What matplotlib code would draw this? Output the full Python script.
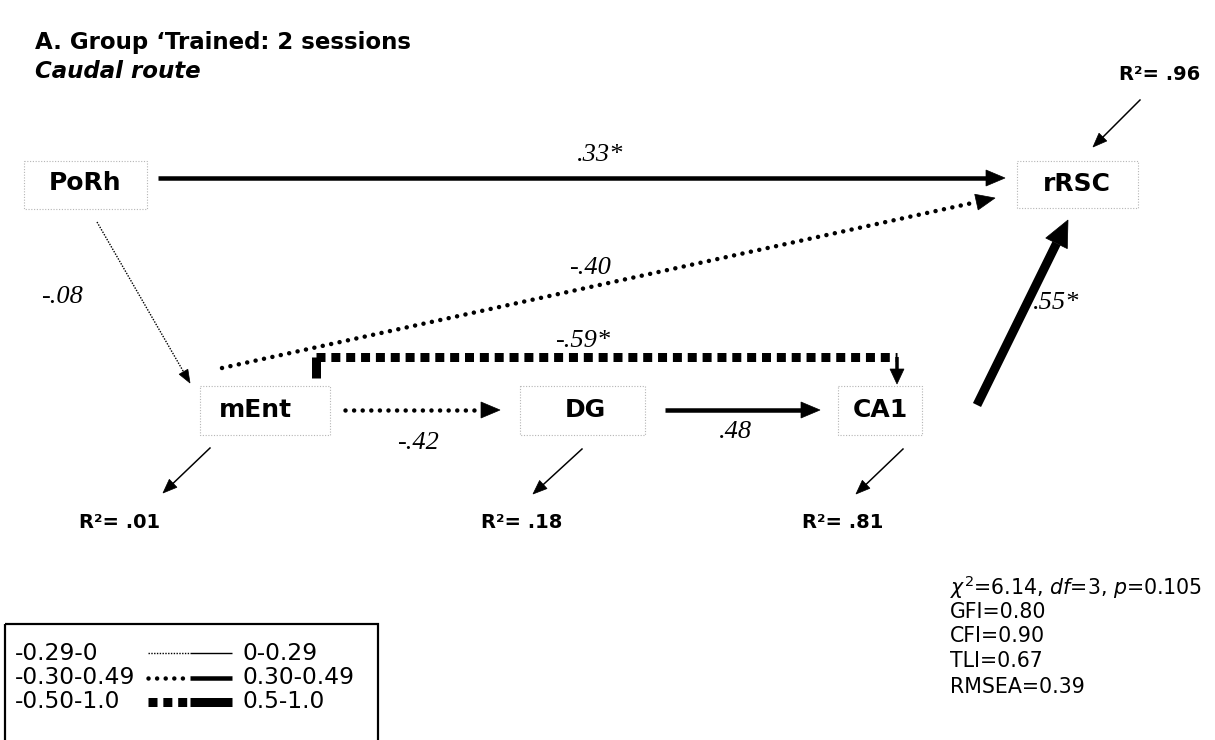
import numpy as np
import matplotlib
matplotlib.use("Agg")
import matplotlib.pyplot as plt
from matplotlib.patches import Rectangle, Polygon

# ---------------- data ----------------
title_line1 = "A. Group \u2018Trained: 2 sessions"
title_line2 = "Caudal route"

node_names = ["PoRh", "rRSC", "mEnt", "DG", "CA1"]

edge_from = ["PoRh", "mEnt", "PoRh", "mEnt", "mEnt", "DG", "CA1"]
edge_to = ["rRSC", "rRSC", "mEnt", "CA1", "DG", "CA1", "rRSC"]
edge_coef = [0.33, -0.40, -0.08, -0.59, -0.42, 0.48, 0.55]
edge_sig = [True, False, False, True, False, False, True]

r2_nodes = ["rRSC", "mEnt", "DG", "CA1"]
r2_values = [0.96, 0.01, 0.18, 0.81]

fit_chi2 = 6.14
fit_df = 3
fit_p = 0.105
fit_names = ["GFI", "CFI", "TLI", "RMSEA"]
fit_values = [0.80, 0.90, 0.67, 0.39]

legend_neg = ["-0.29-0", "-0.30-0.49", "-0.50-1.0"]
legend_pos = ["0-0.29", "0.30-0.49", "0.5-1.0"]
legend_mag = [0.10, 0.40, 0.60]

# ---------------- layout (pixel space) ----------------
W, H = 1215, 740
node_text = {"PoRh": (85, 183), "rRSC": (1077, 184), "mEnt": (255, 410),
             "DG": (585, 410), "CA1": (880, 410)}
node_box = {"PoRh": (24, 161, 147, 209), "rRSC": (1017, 161, 1138, 208),
            "mEnt": (200, 386, 330, 435), "DG": (520, 386, 645, 435),
            "CA1": (838, 386, 922, 435)}
edge_route = [
    [(158, 178), (1005, 178)],
    [(222, 368), (995, 198)],
    [(97, 222), (190, 383)],
    [(316, 378), (316, 357), (897, 357), (897, 384)],
    [(345, 410), (500, 410)],
    [(665, 410), (820, 410)],
    [(977, 405), (1068, 220)],
]
edge_label_pos = [(600, 155), (590, 268), (62, 297), (583, 341),
                  (418, 443), (735, 432), (1056, 303)]
r2_text_pos = {"rRSC": (1160, 75), "mEnt": (120, 522), "DG": (522, 522),
               "CA1": (843, 522)}
r2_arrow = {"rRSC": ((1140, 100), (1093, 147)), "mEnt": ((210, 448), (163, 493)),
            "DG": ((582, 449), (533, 494)), "CA1": ((903, 449), (856, 494))}

FONT = "DejaVu Sans"
plt.rcParams["font.family"] = [FONT]
plt.rcParams["mathtext.fontset"] = "custom"
plt.rcParams["mathtext.rm"] = FONT
plt.rcParams["mathtext.it"] = FONT + ":italic"

PX = 72.0 / 100.0  # points per pixel

fig = plt.figure(figsize=(W / 100, H / 100), dpi=100)
ax = fig.add_axes([0, 0, 1, 1])
ax.set_xlim(0, W)
ax.set_ylim(H, 0)
ax.axis("off")


def mag_class(c):
    m = abs(c)
    if m < 0.295:
        return 0
    if m < 0.495:
        return 1
    return 2


LW = [1.4, 4.5, 9.0]
NEG_DASH = [(1.0, 1.0), (0.01, 1.9), (1.0, 0.65)]
NEG_CAP = ["butt", "round", "butt"]
HEAD = [(13, 10), (19, 16), (26, 24)]


def line_kw(coef, solid=False):
    k = mag_class(coef)
    kw = dict(color="black", lw=LW[k] * PX, solid_capstyle="butt")
    if coef < 0 and not solid:
        kw.update(linestyle=(0, NEG_DASH[k]), dash_capstyle=NEG_CAP[k])
    return kw


def head(p_from, p_tip, length, width):
    p0 = np.array(p_from, float)
    p1 = np.array(p_tip, float)
    d = (p1 - p0) / np.linalg.norm(p1 - p0)
    n = np.array([-d[1], d[0]])
    base = p1 - d * length
    ax.add_patch(Polygon([p1, base + n * width / 2, base - n * width / 2],
                         closed=True, fc="black", ec="black", lw=0.5))
    return base


def arrow(pts, coef, head_size=None):
    k = mag_class(coef)
    hl, hw = head_size if head_size else HEAD[k]
    pts = [np.array(p, float) for p in pts]
    base = head(pts[-2], pts[-1], hl, hw)
    if len(pts) == 2:
        ax.plot([pts[0][0], base[0]], [pts[0][1], base[1]], **line_kw(coef))
    else:
        # first stub solid, middle dashed, last segment solid into head
        ax.plot([pts[0][0], pts[1][0]], [pts[0][1], pts[1][1]],
                **line_kw(coef, solid=True))
        for a, b in zip(pts[1:-2], pts[2:-1]):
            ax.plot([a[0], b[0]], [a[1], b[1]], **line_kw(coef))
        ax.plot([pts[-2][0], base[0]], [pts[-2][1], base[1]],
                color="black", lw=3.5 * PX, solid_capstyle="butt")


# title
ax.text(35, 43, title_line1, fontsize=16.5, fontweight="bold", ha="left", va="center")
ax.text(35, 72, title_line2, fontsize=16.5, fontweight="bold", style="italic",
        ha="left", va="center")

# nodes
for name in node_names:
    x0, y0, x1, y1 = node_box[name]
    ax.add_patch(Rectangle((x0, y0), x1 - x0, y1 - y0, fill=False,
                           ec="#b5b5b5", lw=0.8, linestyle=(0, (1, 1.5))))
    tx, ty = node_text[name]
    ax.text(tx, ty, name, fontsize=18, fontweight="bold", ha="center", va="center")

# edges
for i, (c, sig) in enumerate(zip(edge_coef, edge_sig)):
    hs = (15, 14) if len(edge_route[i]) > 2 else None
    arrow(edge_route[i], c, hs)
    s = ("%.2f" % c).replace("0.", ".")
    if sig:
        s += "*"
    lx, ly = edge_label_pos[i]
    ax.text(lx, ly, s, fontsize=19, family="Liberation Serif", style="italic",
            ha="center", va="center")

# R^2
for name, v in zip(r2_nodes, r2_values):
    (ax0, ay0), (ax1, ay1) = r2_arrow[name]
    base = head((ax0, ay0), (ax1, ay1), 14, 11)
    ax.plot([ax0, base[0]], [ay0, base[1]], color="black", lw=1.5 * PX)
    tx, ty = r2_text_pos[name]
    ax.text(tx, ty, "R\u00b2= " + ("%.2f" % v).replace("0.", "."), fontsize=14,
            fontweight="bold", ha="center", va="center")

# fit statistics
fit_lines = [r"$\chi^2$=%.2f, $\mathit{df}$=%d, $\mathit{p}$=%.3f" % (fit_chi2, fit_df, fit_p)]
fit_lines += ["%s=%.2f" % (n, v) for n, v in zip(fit_names, fit_values)]
fit_y = [587, 612, 636, 661, 687]
for s, y in zip(fit_lines, fit_y):
    ax.text(950, y, s, fontsize=14.8, ha="left", va="center")

# legend
ax.add_patch(Rectangle((5, 624), 373, 130, fill=False, ec="black", lw=2.2 * PX,
                       clip_on=False))
leg_y = [653, 678, 702]
for neg, pos, m, y in zip(legend_neg, legend_pos, legend_mag, leg_y):
    ax.text(15, y, neg, fontsize=16.8, ha="left", va="center")
    ax.text(243, y, pos, fontsize=16.8, ha="left", va="center")
    ax.plot([148, 190], [y, y], **line_kw(-m))
    ax.plot([190, 232], [y, y], **line_kw(m))

fig.savefig("out.png", dpi=100)
